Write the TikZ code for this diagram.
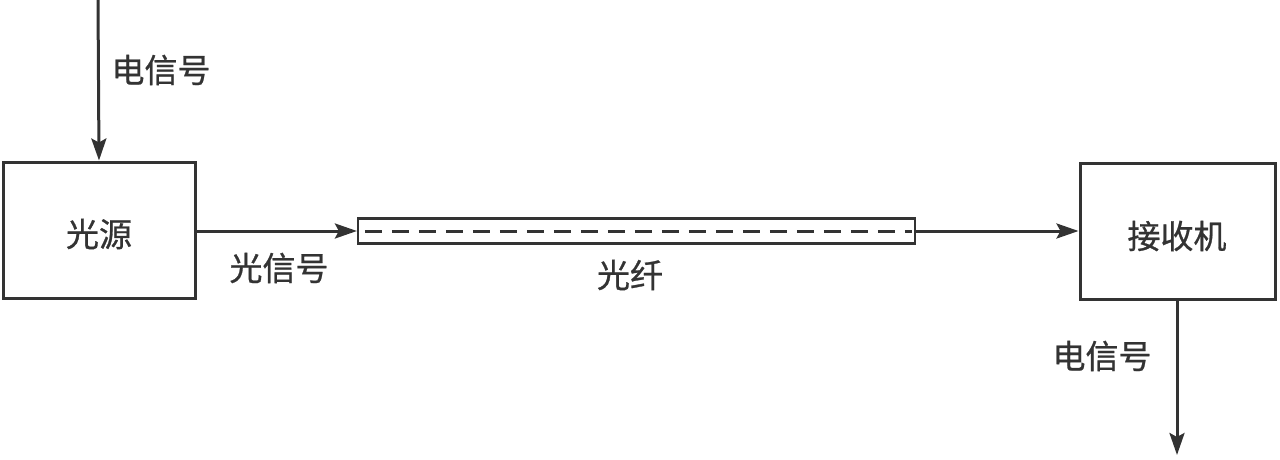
\documentclass[tikz,border=0pt]{standalone}
\usepackage{fontspec}
\newfontfamily\cjk[FakeBold=0.8]{Noto Sans CJK SC}
\usetikzlibrary{arrows.meta}
\begin{document}
\begin{tikzpicture}[x=1pt,y=-1pt,
  line width=3pt, draw={black!80},
  arr/.style={-{Stealth[length=22pt,width=15pt,inset=4pt]}},
  blk/.style={draw, minimum width=192pt, minimum height=136pt, inner sep=0pt},
  lbl/.style={font=\cjk\fontsize{33}{39}\selectfont, text=black!80, inner sep=0pt},
  fib/.style={draw, line width=2.2pt, minimum width=557pt, minimum height=25pt, inner sep=0pt}]
\useasboundingbox (0,0) rectangle (1280,460);
\node[blk] (src) at (99,230) {};
\node[lbl] at (99,234) {光源};
\node[blk, minimum width=195pt] (rx) at (1177.5,231) {};
\node[lbl] at (1177,236) {接收机};
\node[fib] (fiber) at (636.5,231) {};
\coordinate (top) at (98,0);
\coordinate (bot) at (1177,455);
\draw[arr] (top) -- (src.north);
\draw[arr] (src.east |- fiber.west) -- (fiber.west);
\draw[arr] (fiber.east) -- (rx.west |- fiber.east);
\draw[arr] (rx.south -| bot) -- (bot);
\draw[dashed, dash pattern=on 17pt off 10pt, line width=3pt] ([xshift=8pt]fiber.west) -- ([xshift=-4pt]fiber.east);
\node[lbl] (l1) at (161,70) {电信号};
\node[lbl] (l2) at (279,268) {光信号};
\node[lbl] (l3) at (630,275) {光纤};
\node[lbl] (l4) at (1102,356) {电信号};
\end{tikzpicture}
\end{document}
